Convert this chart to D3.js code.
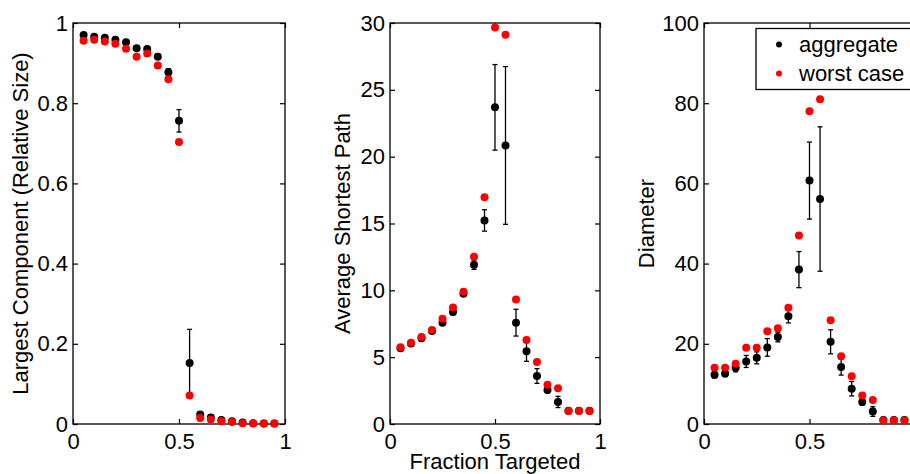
<!DOCTYPE html>
<html>
<head>
<meta charset="utf-8">
<script src="https://cdn.jsdelivr.net/npm/d3@7"></script>
<style>
  html, body { margin: 0; padding: 0; background: #fff; }
  svg { display: block; font-family: "Liberation Sans", Arial, Helvetica, sans-serif; }
</style>
</head>
<body>
<svg id="chart" width="910" height="474"></svg>
<script>
// ---------------- data ----------------
const fraction = [0.05,0.10,0.15,0.20,0.25,0.30,0.35,0.40,0.45,0.50,0.55,0.60,0.65,0.70,0.75,0.80,0.85,0.90,0.95];

const lccAggregate = [0.970,0.966,0.963,0.958,0.952,0.937,0.935,0.916,0.877,0.756,0.152,0.024,0.016,0.010,0.007,0.004,0.002,0.001,0.001];
const lccAggErr    = [0.002,0.002,0.002,0.003,0.003,0.005,0.004,0.006,0.009,0.028,0.084,0.004,0.003,0.002,0.002,0.001,0.001,0.0005,0.0005];
const lccWorst     = [0.956,0.958,0.954,0.948,0.936,0.916,0.924,0.894,0.860,0.703,0.071,0.015,0.011,0.007,0.005,0.002,0.001,0.001,0.001];

const aspAggregate = [5.66,6.02,6.42,6.96,7.58,8.38,9.75,11.92,15.23,23.69,20.84,7.58,5.44,3.59,2.54,1.65,1.0,1.0,1.0];
const aspAggErr    = [0.1,0.1,0.1,0.15,0.2,0.2,0.2,0.35,0.8,3.2,5.9,1.0,0.75,0.55,0.2,0.42,0,0,0];
const aspWorst     = [5.75,6.08,6.50,7.03,7.88,8.72,9.90,12.52,16.96,29.67,29.12,9.32,6.28,4.64,2.94,2.67,0.97,0.97,0.97];

const diamAggregate = [12.3,12.6,14.0,15.6,16.5,19.1,21.7,26.9,38.5,60.7,56.1,20.5,14.2,8.8,5.5,3.1,1.0,1.0,1.0];
const diamAggErr    = [0.8,0.8,1.0,1.5,1.5,2.2,1.2,1.7,4.5,9.6,18.0,3.0,2.0,1.8,0.8,1.2,0,0,0];
const diamWorst     = [14.0,14.0,15.0,19.0,19.0,23.1,23.9,29.0,47.0,78.0,81.0,25.9,16.9,11.9,7.1,6.0,0.9,0.9,0.9];

const xTicks    = [0, 0.5, 1];
const lccTicks  = [0, 0.2, 0.4, 0.6, 0.8, 1];
const aspTicks  = [0, 5, 10, 15, 20, 25, 30];
const diamTicks = [0, 20, 40, 60, 80, 100];

const xLabel = "Fraction Targeted";
const legendLabels = ["aggregate", "worst case"];

// ---------------- drawing ----------------
const svg = d3.select("#chart");
const FONT = 22;
const TICK = 5;

const panels = [
  { left: 73,  right: 285, yMax: 1,   ticks: lccTicks,  agg: lccAggregate,  err: lccAggErr,  worst: lccWorst,
    ylabel: "Largest Component (Relative Size)", labelX: 28, xlabel: false, legend: false },
  { left: 390, right: 600, yMax: 30,  ticks: aspTicks,  agg: aspAggregate,  err: aspAggErr,  worst: aspWorst,
    ylabel: "Average Shortest Path", labelX: 350, xlabel: true, legend: false },
  { left: 704, right: 915, yMax: 100, ticks: diamTicks, agg: diamAggregate, err: diamAggErr, worst: diamWorst,
    ylabel: "Diameter", labelX: 654, xlabel: false, legend: true }
];
const plotTop = 23, plotBottom = 424;

panels.forEach(p => {
  const x = d3.scaleLinear().domain([0, 1]).range([p.left, p.right]);
  const y = d3.scaleLinear().domain([0, p.yMax]).range([plotBottom, plotTop]);
  const g = svg.append("g");

  const styleAxis = sel => {
    sel.select(".domain").remove();
    sel.selectAll(".tick line").attr("stroke", "#000").attr("stroke-width", 1.2);
    sel.selectAll("text").attr("fill", "#000").style("font-size", FONT + "px").style("font-family", "'Liberation Sans', Arial, sans-serif");
  };
  g.append("g").attr("transform", `translate(0,${plotBottom})`)
    .call(d3.axisBottom(x).tickValues(xTicks).tickSize(-TICK).tickPadding(9).tickFormat(d3.format("")))
    .call(styleAxis);
  g.append("g").attr("transform", `translate(0,${plotTop})`)
    .call(d3.axisTop(x).tickValues(xTicks).tickSize(-TICK).tickFormat(""))
    .call(styleAxis);
  g.append("g").attr("transform", `translate(${p.left},0)`)
    .call(d3.axisLeft(y).tickValues(p.ticks).tickSize(-TICK).tickPadding(5).tickFormat(d3.format("")))
    .call(styleAxis);
  g.append("g").attr("transform", `translate(${p.right},0)`)
    .call(d3.axisRight(y).tickValues(p.ticks).tickSize(-TICK).tickFormat(""))
    .call(styleAxis);

  g.append("rect")
    .attr("x", p.left).attr("y", plotTop)
    .attr("width", p.right - p.left).attr("height", plotBottom - plotTop)
    .attr("fill", "none").attr("stroke", "#000").attr("stroke-width", 1.3);

  const eb = g.append("g").attr("stroke", "#000").attr("stroke-width", 1.3);
  fraction.forEach((f, i) => {
    const e = p.err[i];
    if (!(e > 0)) return;
    const cx = x(f), y1 = y(p.agg[i] + e), y2 = y(p.agg[i] - e);
    eb.append("line").attr("x1", cx).attr("x2", cx).attr("y1", y1).attr("y2", y2);
    eb.append("line").attr("x1", cx - 2.5).attr("x2", cx + 2.5).attr("y1", y1).attr("y2", y1);
    eb.append("line").attr("x1", cx - 2.5).attr("x2", cx + 2.5).attr("y1", y2).attr("y2", y2);
  });

  g.append("g").selectAll("circle").data(fraction).join("circle")
    .attr("cx", d => x(d)).attr("cy", (d, i) => y(p.agg[i])).attr("r", 4).attr("fill", "#000");
  g.append("g").selectAll("circle").data(fraction).join("circle")
    .attr("cx", d => x(d)).attr("cy", (d, i) => y(p.worst[i])).attr("r", 4).attr("fill", "#ff0000");

  g.append("text")
    .attr("transform", `translate(${p.labelX},${(plotTop + plotBottom) / 2}) rotate(-90)`)
    .attr("text-anchor", "middle")
    .style("font-size", FONT + "px").attr("fill", "#000")
    .text(p.ylabel);

  if (p.xlabel) {
    g.append("text")
      .attr("x", (p.left + p.right) / 2).attr("y", 469)
      .attr("text-anchor", "middle")
      .style("font-size", FONT + "px").attr("fill", "#000")
      .text(xLabel);
  }

  if (p.legend) {
    const lg = svg.append("g");
    lg.append("rect").attr("x", 756).attr("y", 28.5).attr("width", 170).attr("height", 61)
      .attr("fill", "#fff").attr("stroke", "#000").attr("stroke-width", 1.3);
    const colors = ["#000", "#ff0000"];
    const ys = [44.5, 73.5];
    legendLabels.forEach((lab, i) => {
      lg.append("circle").attr("cx", 779).attr("cy", ys[i]).attr("r", 3).attr("fill", colors[i]);
      lg.append("text").attr("x", 799).attr("y", ys[i]).attr("dy", "0.35em")
        .style("font-size", FONT + "px").attr("fill", "#000").text(lab);
    });
  }
});
</script>
</body>
</html>
